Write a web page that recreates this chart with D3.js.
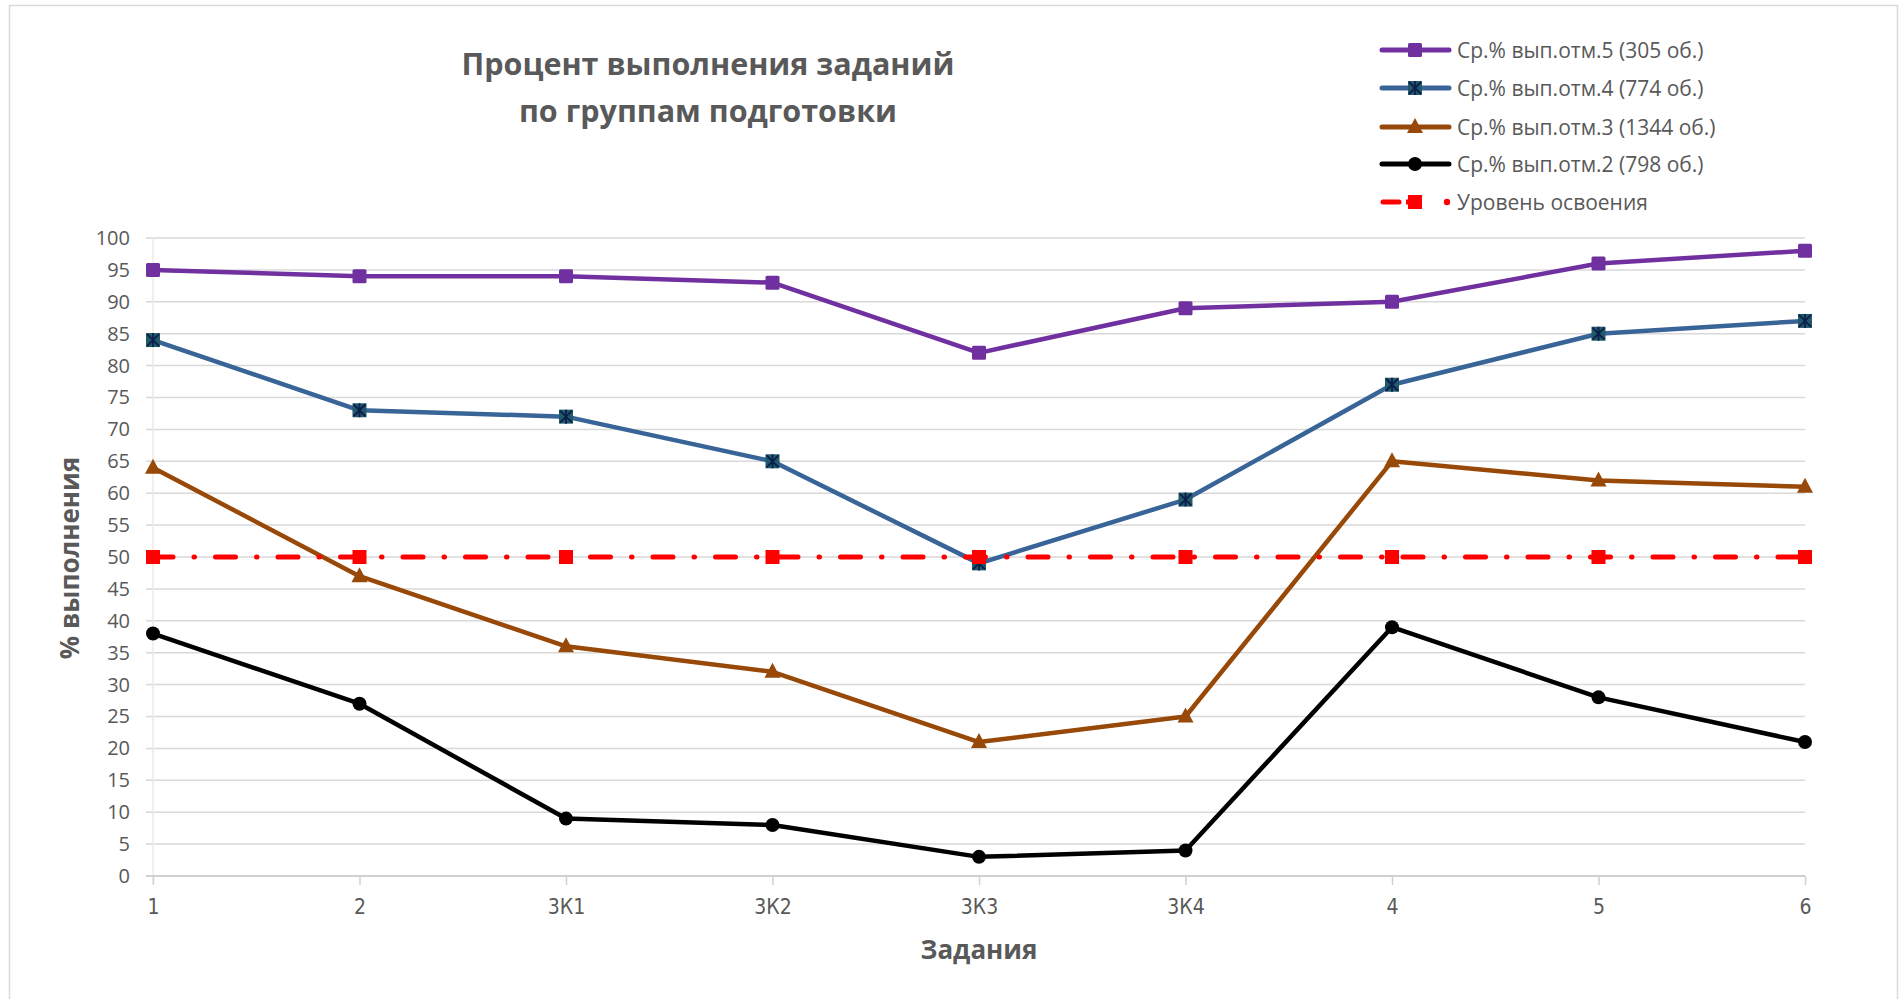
<!DOCTYPE html>
<html>
<head>
<meta charset="utf-8">
<script src="https://cdn.jsdelivr.net/npm/d3@7"></script>
<style>
  body { margin: 0; background: #ffffff; }
  svg { display: block; }
</style>
</head>
<body>
<div id="chart"></div>
<script>
// данные
var categories = ["1", "2", "3К1", "3К2", "3К3", "3К4", "4", "5", "6"];
var mark5 = [95, 94, 94, 93, 82, 89, 90, 96, 98];
var mark4 = [84, 73, 72, 65, 49, 59, 77, 85, 87];
var mark3 = [64, 47, 36, 32, 21, 25, 65, 62, 61];
var mark2 = [38, 27, 9, 8, 3, 4, 39, 28, 21];
var level = [50, 50, 50, 50, 50, 50, 50, 50, 50];
var seriesNames = ["Ср.% вып.отм.5 (305 об.)", "Ср.% вып.отм.4 (774 об.)",
    "Ср.% вып.отм.3 (1344 об.)", "Ср.% вып.отм.2 (798 об.)", "Уровень освоения"];
var yTicks = d3.range(0, 101, 5);

var width = 1901, height = 999;
var svg = d3.select("#chart").append("svg")
    .attr("width", width)
    .attr("height", height);

// рамка области диаграммы
svg.append("rect")
    .attr("x", 9.5).attr("y", 5.5)
    .attr("width", 1888).attr("height", 1100)
    .attr("fill", "#fff")
    .attr("stroke", "#d9d9d9")
    .attr("stroke-width", 1.5);

var x = d3.scalePoint()
    .domain(categories)
    .range([153, 1805]);

var y = d3.scaleLinear()
    .domain([0, 100])
    .range([876, 238]);

// сетка
svg.append("g")
    .selectAll("line")
    .data(yTicks)
    .enter()
    .append("line")
    .attr("x1", 146).attr("x2", 1805)
    .attr("y1", function(d) { return y(d); })
    .attr("y2", function(d) { return y(d); })
    .attr("stroke", "#d9d9d9")
    .attr("stroke-width", 1.5);

// вертикальная ось
svg.append("line")
    .attr("x1", 153).attr("x2", 153)
    .attr("y1", y(100)).attr("y2", 884)
    .attr("stroke", "#efebe0")
    .attr("stroke-width", 1.5);

// ось X
var xAxis = svg.append("g")
    .attr("transform", "translate(0," + y(0) + ")")
    .call(d3.axisBottom(x).tickSize(9).tickPadding(14));
xAxis.select(".domain").attr("stroke", "#d0d0d0").attr("stroke-width", 2)
    .attr("d", "M" + 146 + ",0H" + 1805);
xAxis.selectAll(".tick line").attr("stroke", "#d0d0d0").attr("stroke-width", 1.5);
xAxis.selectAll(".tick text")
    .attr("fill", "#595959")
    .style("font-family", "'Liberation Sans Narrow', 'DejaVu Sans Condensed', Roboto, sans-serif")
    .style("font-size", "21px");

// ось Y
var yAxis = svg.append("g")
    .attr("transform", "translate(146,0)")
    .call(d3.axisLeft(y).tickValues(yTicks).tickSize(0).tickPadding(16));
yAxis.select(".domain").remove();
yAxis.selectAll(".tick text")
    .attr("fill", "#595959")
    .style("font-family", "'Open Sans', sans-serif")
    .style("font-size", "20px");

// подписи осей
svg.append("text")
    .attr("transform", "translate(79,558) rotate(-90)")
    .attr("text-anchor", "middle")
    .attr("fill", "#595959")
    .style("font-family", "'Open Sans', sans-serif")
    .style("font-weight", "bold")
    .style("font-size", "26px")
    .text("% выполнения");

svg.append("text")
    .attr("x", 979).attr("y", 959)
    .attr("text-anchor", "middle")
    .attr("fill", "#595959")
    .style("font-family", "'Open Sans', sans-serif")
    .style("font-weight", "bold")
    .style("font-size", "26px")
    .text("Задания");

// заголовок
var title = svg.append("text")
    .attr("text-anchor", "middle")
    .attr("fill", "#595959")
    .style("font-family", "'Open Sans', sans-serif")
    .style("font-weight", "bold")
    .style("font-size", "30.5px");
title.append("tspan").attr("x", 708).attr("y", 75).text("Процент выполнения заданий");
title.append("tspan").attr("x", 708).attr("y", 122).text("по группам подготовки");

// серии
var series = [
    { name: seriesNames[0], values: mark5, color: "#7030a0", marker: "square" },
    { name: seriesNames[1], values: mark4, color: "#386497", marker: "star" },
    { name: seriesNames[2], values: mark3, color: "#984807", marker: "triangle" },
    { name: seriesNames[3], values: mark2, color: "#000000", marker: "circle" },
    { name: seriesNames[4], values: level, color: "#ff0000", marker: "redsquare" }
];

var line = d3.line()
    .x(function(d, i) { return x(categories[i]); })
    .y(function(d) { return y(d); });

function drawMarker(g, type, color, cx, cy) {
    if (type == "square") {
        g.append("rect").attr("x", cx - 7).attr("y", cy - 7)
            .attr("width", 14).attr("height", 14).attr("rx", 1.5)
            .attr("fill", color);
    } else if (type == "star") {
        g.append("rect").attr("x", cx - 7).attr("y", cy - 7)
            .attr("width", 14).attr("height", 14)
            .attr("fill", "#215968");
        g.append("path")
            .attr("d", "M" + (cx - 6) + "," + (cy - 6) + "L" + (cx + 6) + "," + (cy + 6) +
                "M" + (cx + 6) + "," + (cy - 6) + "L" + (cx - 6) + "," + (cy + 6) +
                "M" + cx + "," + (cy - 7) + "L" + cx + "," + (cy + 7))
            .attr("stroke", "#0b1f4d").attr("stroke-width", 1.8);
    } else if (type == "triangle") {
        g.append("path")
            .attr("d", "M" + cx + "," + (cy - 9) + "L" + (cx + 8) + "," + (cy + 6) +
                "L" + (cx - 8) + "," + (cy + 6) + "Z")
            .attr("fill", color);
    } else if (type == "circle") {
        g.append("circle").attr("cx", cx).attr("cy", cy).attr("r", 7)
            .attr("fill", color);
    } else {
        g.append("rect").attr("x", cx - 7).attr("y", cy - 7)
            .attr("width", 14).attr("height", 14)
            .attr("fill", color);
    }
}

series.forEach(function(s) {
    var g = svg.append("g");
    var path = g.append("path")
        .datum(s.values)
        .attr("d", line)
        .attr("fill", "none")
        .attr("stroke", s.color)
        .attr("stroke-width", 4.5)
        .attr("stroke-linejoin", "round");
    if (s.marker == "redsquare") {
        path.attr("stroke-dasharray", "20,21,0.5,21")
            .attr("stroke-linecap", "round")
            .attr("stroke-width", 5);
    }
    s.values.forEach(function(v, i) {
        drawMarker(g, s.marker, s.color, x(categories[i]), y(v));
    });
});

// легенда
var legendY = [50, 88, 127, 164, 202];
var legend = svg.append("g");
series.forEach(function(s, i) {
    var ly = legendY[i];
    if (s.marker == "redsquare") {
        legend.append("line")
            .attr("x1", 1383).attr("x2", 1399).attr("y1", ly).attr("y2", ly)
            .attr("stroke", s.color).attr("stroke-width", 5).attr("stroke-linecap", "round");
        legend.append("line")
            .attr("x1", 1406).attr("x2", 1422).attr("y1", ly).attr("y2", ly)
            .attr("stroke", s.color).attr("stroke-width", 5);
        legend.append("circle").attr("cx", 1447).attr("cy", ly).attr("r", 3.2)
            .attr("fill", s.color);
    } else {
        legend.append("line")
            .attr("x1", 1382).attr("x2", 1449).attr("y1", ly).attr("y2", ly)
            .attr("stroke", s.color).attr("stroke-width", 5).attr("stroke-linecap", "round");
    }
    drawMarker(legend, s.marker, s.color, 1415, ly);
    legend.append("text")
        .attr("x", 1457).attr("y", ly + 7.5)
        .attr("fill", "#595959")
        .style("font-family", "'Open Sans', sans-serif")
        .style("font-size", "21px")
        .text(s.name);
});
</script>
</body>
</html>
